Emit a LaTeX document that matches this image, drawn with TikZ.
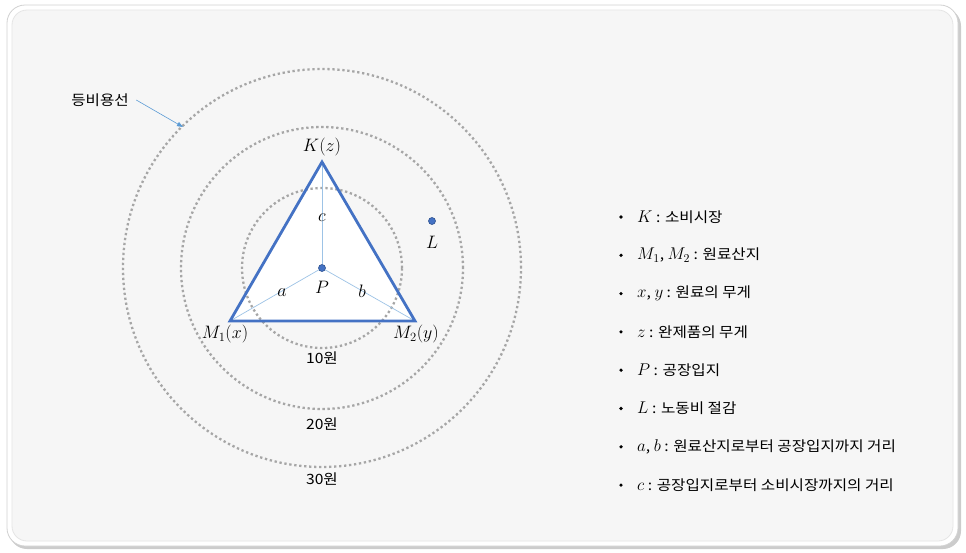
\documentclass[tikz,border=0pt]{standalone}
\usepackage{fix-cm}
\usepackage{fontspec}
\setmainfont[FakeStretch=1.1]{Noto Sans CJK KR}
\usepackage{tikz}
\usetikzlibrary{arrows.meta}

\definecolor{triblue}{HTML}{4472C4}
\definecolor{dotedge}{HTML}{2F528F}
\definecolor{thinblue}{HTML}{9DC3E6}
\definecolor{arrowblue}{HTML}{5B9BD5}
\definecolor{ringgray}{HTML}{A6A6A6}
\definecolor{panel}{HTML}{F6F6F6}

\newcommand\mvar[1]{{\fontsize{17}{19}\selectfont$#1$}}

\tikzset{
  ring/.style={ringgray, line width=2.3pt, dash pattern=on 2.3pt off 2.7pt},
  spoke/.style={thinblue, line width=0.7pt},
  pointdot/.style={circle, fill=triblue, draw=dotedge, line width=0.6pt, inner sep=0pt, minimum size=7pt},
  mathlabel/.style={font=\fontsize{18}{20}\selectfont, inner sep=1pt},
}

\begin{document}
\begin{tikzpicture}[x=1pt, y=-1pt, font=\fontsize{14.2}{16}\selectfont]
  \useasboundingbox (0,0) rectangle (966,552);
  % frame
  \fill[black!20, rounded corners=18pt] (9,8) rectangle (961,549);
  \filldraw[fill=white, draw=black!18, line width=0.8pt, rounded corners=18pt] (7,5) rectangle (958,546);
  \filldraw[fill=panel, draw=black!10, line width=0.8pt, rounded corners=15pt] (12,10) rectangle (953,541);

  % triangle corners and points
  \coordinate (K) at (322,162);
  \coordinate (M1) at (230,321);
  \coordinate (M2) at (415,321);
  \node[pointdot] (P) at (322,268) {};
  \node[pointdot] (L) at (432,221) {};

  \fill[white] (K) -- (M1) -- (M2) -- cycle;

  % cost rings
  \foreach \r/\wn/\ly in {80/10/358, 141/20/424, 199/30/479} {
    \draw[ring] (P) circle (\r pt);
    \node (won\wn) at (322,\ly) {\wn{}원};
  }

  \draw[spoke] (P) -- (K);
  \draw[spoke] (P) -- (M1);
  \draw[spoke] (P) -- (M2);
  \draw[triblue, line width=2.8pt, line join=miter] (K) -- (M1) -- (M2) -- cycle;
  \node[pointdot] at (P) {};

  \node[mathlabel] (Klab) at (322,147) {$K(z)$};
  \node[mathlabel] (M1lab) at (225,334) {$M_1(x)$};
  \node[mathlabel] (M2lab) at (416,334) {$M_2(y)$};
  \node[mathlabel] (clab) at (322,218) {$c$};
  \node[mathlabel] (alab) at (282,293) {$a$};
  \node[mathlabel] (Plab) at (322,287) {$P$};
  \node[mathlabel] (blab) at (362,291) {$b$};
  \node[mathlabel] (Llab) at (432,242) {$L$};

  % label of the rings
  \node (iso) at (100,100) {등비용선};
  \coordinate (isoend) at (183,127);
  \draw[arrowblue, line width=0.6pt, -{Triangle[length=6pt, width=4.5pt]}] (iso.east) ++(4,0) -- (isoend);

  % legend
  \foreach \txt [count=\i] in {
      {\mvar{K} : 소비시장},
      {\mvar{M_1}, \mvar{M_2} : 원료산지},
      {\mvar{x}, \mvar{y} : 원료의 무게},
      {\mvar{z} : 완제품의 무게},
      {\mvar{P} : 공장입지},
      {\mvar{L} : 노동비 절감},
      {\mvar{a}, \mvar{b} : 원료산지로부터 공장입지까지 거리},
      {\mvar{c} : 공장입지로부터 소비시장까지의 거리}} {
    \fill (621,{217+38.3*(\i-1)}) circle (1.8pt);
    \node[anchor=west, inner sep=0pt] (item\i) at (637,{217+38.3*(\i-1)}) {\txt};
  }
\end{tikzpicture}
\end{document}
